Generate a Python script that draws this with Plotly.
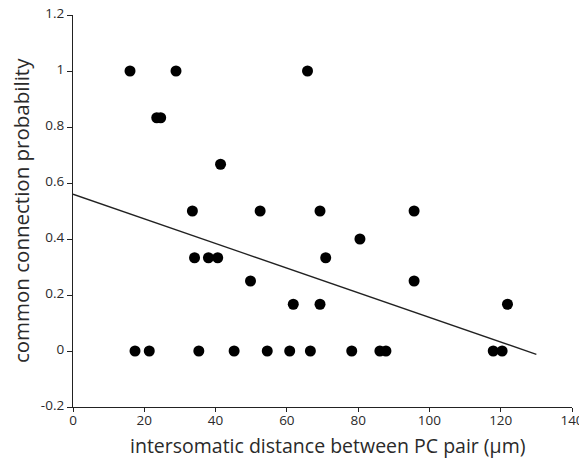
import plotly.graph_objects as go

# Data
distance_um = [16.0, 28.9, 65.8,
               23.5, 24.6,
               41.4,
               33.5, 52.5, 69.3, 95.7,
               80.5,
               34.1, 38.0, 40.6, 70.9,
               49.8, 95.7,
               61.8, 69.3, 121.9,
               17.4, 21.4, 35.3, 45.2, 54.5, 60.8, 66.6, 78.2, 86.1, 87.8, 117.9, 120.4]
probability = [1, 1, 1,
               0.833, 0.833,
               0.667,
               0.5, 0.5, 0.5, 0.5,
               0.4,
               0.333, 0.333, 0.333, 0.333,
               0.25, 0.25,
               0.167, 0.167, 0.167,
               0, 0, 0, 0, 0, 0, 0, 0, 0, 0, 0, 0]

fit_x = [0, 130]
fit_y = [0.56, -0.012]

x_ticks = [0, 20, 40, 60, 80, 100, 120, 140]
y_ticks = [-0.2, 0, 0.2, 0.4, 0.6, 0.8, 1, 1.2]
y_ticklabels = ["-0.2", "0", "0.2", "0.4", "0.6", "0.8", "1", "1.2"]

x_title = "intersomatic distance between PC pair (μm)"
y_title = "common connection probability"

FONT = "Open Sans"
TXT = "#2a2a2a"

fig = go.Figure()
fig.add_trace(go.Scatter(x=fit_x, y=fit_y, mode="lines",
                         line=dict(color="#222222", width=1.3),
                         showlegend=False, hoverinfo="skip"))
fig.add_trace(go.Scatter(x=distance_um, y=probability, mode="markers",
                         marker=dict(color="black", size=11, line=dict(width=0)),
                         showlegend=False))

fig.add_annotation(text=x_title, xref="paper", yref="paper", x=0.511, y=-0.097,
                   xanchor="center", yanchor="middle", showarrow=False,
                   font=dict(size=19.5, family=FONT, color=TXT))
fig.add_annotation(text=y_title, xref="paper", yref="paper", x=-0.104, y=0.5,
                   xanchor="center", yanchor="middle", showarrow=False, textangle=-90,
                   font=dict(size=20.5, family=FONT, color=TXT))

fig.update_layout(
    width=587, height=466,
    margin=dict(l=65, r=23, t=7, b=67, autoexpand=False),
    paper_bgcolor="white", plot_bgcolor="white",
    font=dict(family=FONT, color=TXT, size=13.5),
    xaxis=dict(range=[0, 140], tickvals=x_ticks, showgrid=False, zeroline=False,
               automargin=False, ticklabeloverflow="allow", ticklabelstandoff=-3,
               showline=True, linecolor="#222222", linewidth=1.2,
               ticks="outside", ticklen=4, tickcolor="#222222",
               tickfont=dict(size=13.5, family=FONT, color=TXT)),
    yaxis=dict(range=[-0.2, 1.2], tickvals=y_ticks, ticktext=y_ticklabels,
               showgrid=False, zeroline=False, automargin=False,
               ticklabeloverflow="allow", ticklabelshift=-2,
               showline=True, linecolor="#222222", linewidth=1.2,
               ticks="outside", ticklen=5, tickcolor="#222222",
               tickfont=dict(size=13.5, family=FONT, color=TXT)),
)

fig.write_html("out.html")
